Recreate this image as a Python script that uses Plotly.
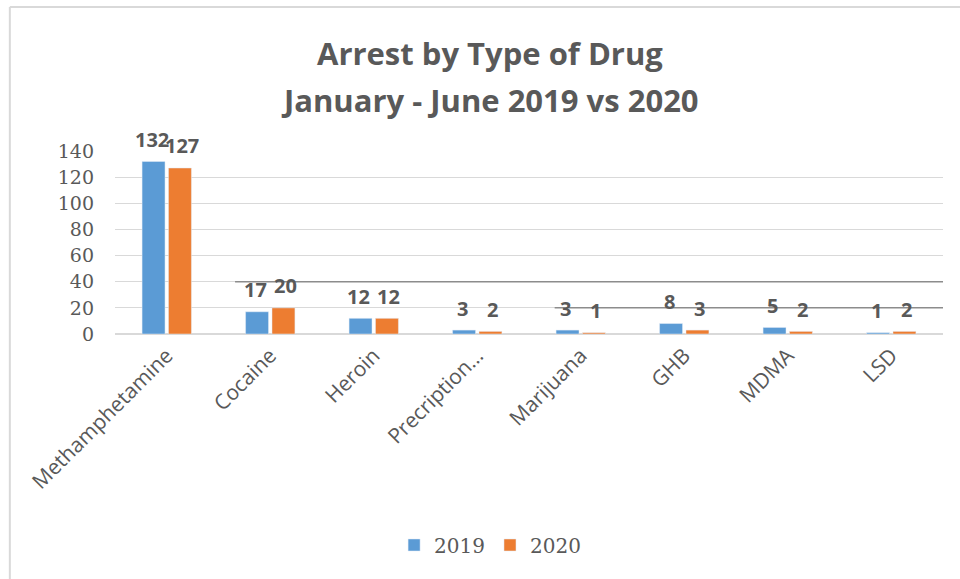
import plotly.graph_objects as go

drugs = ["Methamphetamine", "Cocaine", "Heroin", "Precription…", "Marijuana", "GHB", "MDMA", "LSD"]
arrests_2019 = [132, 17, 12, 3, 3, 8, 5, 1]
arrests_2020 = [127, 20, 12, 2, 1, 3, 2, 2]
y_ticks = [0, 20, 40, 60, 80, 100, 120, 140]

BLUE = "#5B9BD5"
ORANGE = "#ED7D31"
TEXT = "#595959"
GRID = "#D9D9D9"

label_font = dict(family="Open Sans", size=20, color=TEXT, weight="bold")

fig = go.Figure()
series = [("2019", arrests_2019, BLUE, -15), ("2020", arrests_2020, ORANGE, 15)]
for name, vals, col, _ in series:
    fig.add_trace(go.Bar(name=name, x=drugs, y=vals, marker_color=col))

# value labels above each bar
annotations = []
for name, vals, col, dx in series:
    for d, v in zip(drugs, vals):
        annotations.append(dict(
            x=d, y=v, xref="x", yref="y", text=f"<b>{v}</b>", showarrow=False,
            xshift=dx, yshift=22, xanchor="center", yanchor="middle",
            font=label_font,
        ))

annotations += [
    dict(text="<b>Arrest by Type of Drug</b>", xref="paper", yref="paper",
         x=0.453, y=1.535, xanchor="center", yanchor="middle", showarrow=False,
         font=dict(family="Open Sans", size=31, color=TEXT)),
    dict(text="<b>January - June 2019 vs 2020</b>", xref="paper", yref="paper",
         x=0.453, y=1.278, xanchor="center", yanchor="middle", showarrow=False,
         font=dict(family="Open Sans", size=31, color=TEXT)),
]

fig.update_layout(
    width=960, height=579,
    margin=dict(l=115, r=17, t=151, b=245),
    paper_bgcolor="white", plot_bgcolor="white",
    barmode="group", bargap=0.49, bargroupgap=0.13,
    showlegend=True,
    legend=dict(orientation="h", x=0.453, xanchor="center", y=-1.153, yanchor="middle",
                font=dict(family="DejaVu Serif", size=20, color=TEXT),
                itemwidth=30, traceorder="normal"),
    annotations=annotations,
    shapes=[
        # chart frame (top and left edges)
        dict(type="line", xref="paper", yref="paper", x0=-0.127, x1=1.03, y0=1.787, y1=1.787,
             line=dict(color=GRID, width=2)),
        dict(type="line", xref="paper", yref="paper", x0=-0.127, x1=-0.127, y0=1.787, y1=-1.34,
             line=dict(color=GRID, width=2)),
        # darker rules over the 40 and 20 gridlines
        dict(type="line", xref="paper", yref="y", x0=0.145, x1=1.0, y0=40, y1=40,
             line=dict(color="#8C8C8C", width=1.5)),
        dict(type="line", xref="paper", yref="y", x0=0.531, x1=1.0, y0=20, y1=20,
             line=dict(color="#8C8C8C", width=1.5)),
    ],
)

fig.update_xaxes(
    tickangle=-45, tickfont=dict(family="Open Sans", size=21, color=TEXT),
    showgrid=False, showline=True, linecolor=GRID, linewidth=1, ticks="",
)
fig.update_yaxes(
    range=[0, 140], tickvals=y_ticks, showgrid=True, gridcolor=GRID, gridwidth=1,
    zeroline=True, zerolinecolor=GRID, showline=False, ticks="",
    tickfont=dict(family="DejaVu Serif", size=19, color=TEXT),
    ticklabelstandoff=20,
)

fig.write_html("out.html")
